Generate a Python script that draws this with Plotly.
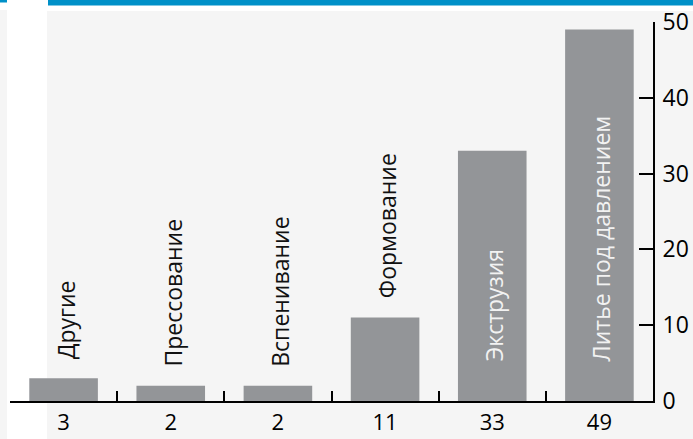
import plotly.graph_objects as go

# data
categories = ["Другие", "Прессование", "Вспенивание", "Формование", "Экструзия", "Литье под давлением"]
values = [3, 2, 2, 11, 33, 49]
inside = [False, False, False, False, True, True]
y_ticks = [0, 10, 20, 30, 40, 50]

FONT = "Open Sans, Noto Sans, sans-serif"
BAR = "#939598"
BLUE = "#0090c8"
BG = "#f5f5f5"

fig = go.Figure()
fig.add_trace(go.Bar(
    x=categories, y=values,
    marker=dict(color=BAR, line=dict(width=0)),
    width=0.64,
    hoverinfo="x+y",
))

# category names rotated above (or inside) the bars
for cat, val, ins in zip(categories, values, inside):
    if ins:
        fig.add_annotation(x=cat, y=0, text=cat, textangle=-90, showarrow=False,
                           xanchor="center", yanchor="bottom", yshift=38, xshift=2,
                           font=dict(family=FONT, size=23, color="#f2f2f2"))
    else:
        fig.add_annotation(x=cat, y=val, text=cat, textangle=-90, showarrow=False,
                           xanchor="center", yanchor="bottom", yshift=17, xshift=2,
                           font=dict(family=FONT, size=23, color="#111"))

# page decoration: grey panel + blue rule at the top
L, W, B, H = 10, 643, 401, 379
def px(x): return (x - L) / W
def py(y): return (B - y) / H

fig.add_shape(type="rect", xref="paper", yref="paper", layer="below",
              x0=px(47), x1=px(700), y0=py(11), y1=py(445), fillcolor=BG, line_width=0)
fig.add_shape(type="rect", xref="paper", yref="paper", layer="below",
              x0=px(-5), x1=px(7), y0=py(10), y1=py(445), fillcolor=BG, line_width=0)
fig.add_shape(type="rect", xref="paper", yref="paper", layer="below",
              x0=px(48), x1=px(700), y0=py(-5), y1=py(5.5), fillcolor=BLUE, line_width=0)
fig.add_shape(type="rect", xref="paper", yref="paper", layer="below",
              x0=px(-5), x1=px(7), y0=py(-5), y1=py(2.5), fillcolor=BLUE, line_width=0)

fig.update_xaxes(
    type="category",
    tickmode="array", tickvals=categories, ticktext=[str(v) for v in values],
    tickson="boundaries",
    ticks="inside", ticklen=10, tickwidth=2, tickcolor="black",
    showline=True, linewidth=2, linecolor="black",
    showgrid=False, zeroline=False,
    range=[-0.5, 5.5],
    tickfont=dict(family=FONT, size=22, color="black"),
    ticklabelstandoff=1,
    automargin=False,
)
fig.update_yaxes(
    side="right", range=[0, 50],
    tickmode="array", tickvals=y_ticks,
    ticks="inside", ticklen=14, tickwidth=2, tickcolor="black",
    showline=True, linewidth=2, linecolor="black",
    showgrid=False, zeroline=False,
    tickfont=dict(family=FONT, size=23, color="black"),
    ticklabelstandoff=3,
    automargin=False,
)

fig.update_layout(
    width=693, height=439,
    margin=dict(l=L, r=693 - L - W, t=B - H, b=439 - B),
    paper_bgcolor="white",
    plot_bgcolor="rgba(0,0,0,0)",
    showlegend=False,
    bargap=0.36,
)

fig.write_html("out.html", config={"displayModeBar": False},
               post_script="document.body.style.margin='0';")
